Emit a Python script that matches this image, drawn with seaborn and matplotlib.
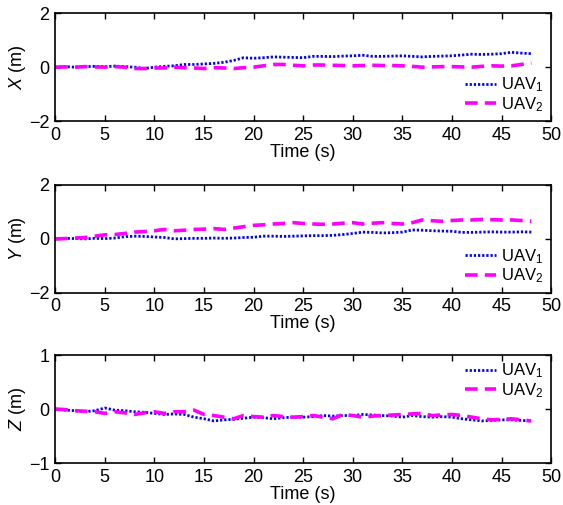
import numpy as np
import pandas as pd
import matplotlib
matplotlib.use('Agg')
import matplotlib.pyplot as plt
import seaborn as sns

sns.set_style('white')
plt.rcParams['font.family'] = ['Liberation Sans', 'DejaVu Sans']
plt.rcParams['mathtext.fontset'] = 'custom'
plt.rcParams['mathtext.rm'] = 'Liberation Sans'
plt.rcParams['mathtext.it'] = 'Liberation Sans:italic'
for key in ['text.color', 'axes.labelcolor', 'xtick.color', 'ytick.color', 'axes.edgecolor']:
    plt.rcParams[key] = 'black'

# time stamps (s)
time = list(range(0, 49))

# X position (m)
x_uav1 = [0.00, 0.02, 0.00, 0.02, 0.03, 0.02, 0.04, 0.02, 0.00, -0.05,
          0.00, 0.03, 0.05, 0.10, 0.10, 0.12, 0.14, 0.18, 0.25, 0.35,
          0.33, 0.35, 0.38, 0.37, 0.36, 0.35, 0.40, 0.40, 0.39, 0.41,
          0.42, 0.44, 0.40, 0.40, 0.41, 0.42, 0.40, 0.38, 0.40, 0.41,
          0.42, 0.45, 0.48, 0.47, 0.48, 0.50, 0.55, 0.52, 0.50]
x_uav2 = [0.00, 0.01, 0.00, 0.02, 0.01, 0.00, 0.02, 0.00, -0.05, -0.05,
          -0.03, -0.03, 0.00, -0.02, -0.03, -0.05, -0.02, -0.03, -0.05, -0.02,
          0.00, 0.05, 0.10, 0.10, 0.07, 0.05, 0.08, 0.08, 0.07, 0.06,
          0.05, 0.06, 0.07, 0.06, 0.06, 0.05, 0.03, 0.00, 0.01, 0.02,
          0.02, 0.01, 0.00, 0.03, 0.05, 0.04, 0.05, 0.10, 0.15]

# Y position (m)
y_uav1 = [0.00, 0.02, 0.01, 0.00, 0.02, 0.01, 0.03, 0.08, 0.10, 0.09,
          0.07, 0.05, 0.00, 0.01, 0.02, 0.02, 0.03, 0.02, 0.03, 0.05,
          0.06, 0.10, 0.10, 0.09, 0.10, 0.11, 0.12, 0.12, 0.13, 0.16,
          0.20, 0.25, 0.24, 0.22, 0.23, 0.25, 0.33, 0.32, 0.30, 0.29,
          0.28, 0.24, 0.24, 0.25, 0.26, 0.25, 0.25, 0.26, 0.25]
y_uav2 = [0.00, 0.01, 0.03, 0.05, 0.10, 0.15, 0.16, 0.20, 0.25, 0.27,
          0.30, 0.35, 0.30, 0.32, 0.35, 0.36, 0.38, 0.35, 0.40, 0.45,
          0.50, 0.52, 0.55, 0.57, 0.60, 0.57, 0.55, 0.54, 0.55, 0.58,
          0.60, 0.55, 0.58, 0.60, 0.57, 0.55, 0.60, 0.70, 0.67, 0.65,
          0.68, 0.70, 0.70, 0.72, 0.71, 0.70, 0.70, 0.68, 0.65]

# Z position (m)
z_uav1 = [0.00, -0.02, -0.03, -0.05, -0.03, 0.02, -0.02, -0.03, -0.05, -0.06,
          -0.08, -0.10, -0.09, -0.10, -0.15, -0.18, -0.22, -0.20, -0.19, -0.17,
          -0.15, -0.16, -0.18, -0.16, -0.15, -0.15, -0.14, -0.12, -0.13, -0.12,
          -0.12, -0.10, -0.11, -0.12, -0.13, -0.15, -0.12, -0.14, -0.15, -0.14,
          -0.15, -0.18, -0.20, -0.22, -0.21, -0.20, -0.20, -0.21, -0.22]
z_uav2 = [0.00, -0.01, -0.03, -0.04, -0.05, -0.08, -0.05, -0.07, -0.10, -0.07,
          -0.05, -0.08, -0.05, -0.05, -0.02, -0.10, -0.12, -0.15, -0.18, -0.12,
          -0.14, -0.15, -0.12, -0.14, -0.15, -0.14, -0.12, -0.15, -0.18, -0.10,
          -0.12, -0.15, -0.13, -0.12, -0.11, -0.10, -0.09, -0.08, -0.12, -0.11,
          -0.10, -0.12, -0.15, -0.18, -0.20, -0.19, -0.18, -0.20, -0.22]

panels = [
    ('$X$ (m)', x_uav1, x_uav2, (-2, 2), [-2, 0, 2], 'lower right', (0.985, 0.07)),
    ('$Y$ (m)', y_uav1, y_uav2, (-2, 2), [-2, 0, 2], 'lower right', (0.985, 0.07)),
    ('$Z$ (m)', z_uav1, z_uav2, (-1, 1), [-1, 0, 1], 'upper right', (0.985, 0.94)),
]
bottoms = [0.760, 0.420, 0.083]

fig = plt.figure(figsize=(5.63, 5.05), dpi=100)
for (ylab, s1, s2, ylim, yticks, loc, anchor), b in zip(panels, bottoms):
    ax = fig.add_axes([0.098, b, 0.881, 0.214])
    df = pd.DataFrame({'t': time, 'uav1': s1, 'uav2': s2})
    sns.lineplot(data=df, x='t', y='uav1', ax=ax, color='blue', lw=2,
                 label='UAV$_1$')
    ax.lines[-1].set_dashes((0.8, 0.7))
    sns.lineplot(data=df, x='t', y='uav2', ax=ax, color='magenta', lw=2.6,
                 label='UAV$_2$')
    ax.lines[-1].set_dashes((3.5, 2.0))
    ax.set_xlim(0, 50)
    ax.set_ylim(*ylim)
    ax.set_xticks(range(0, 51, 5))
    ax.set_yticks(yticks)
    ax.set_yticklabels(['\u2212' + str(-v) if v < 0 else str(v) for v in yticks])
    ax.set_xlabel('Time (s)', fontsize=13, labelpad=0)
    ax.set_ylabel(ylab, fontsize=13, labelpad=1)
    ax.tick_params(direction='in', bottom=True, left=True, top=True, right=True,
                   labelsize=13, length=4, width=1)
    ax.tick_params(axis='x', pad=4)
    ax.tick_params(axis='y', pad=4)
    for sp in ax.spines.values():
        sp.set_linewidth(1.2)
    ax.legend(loc=loc, bbox_to_anchor=anchor, frameon=False, fontsize=12,
              handlelength=1.9, labelspacing=0.05, borderpad=0,
              borderaxespad=0, handletextpad=0.3)

fig.savefig('out.png', dpi=100)
